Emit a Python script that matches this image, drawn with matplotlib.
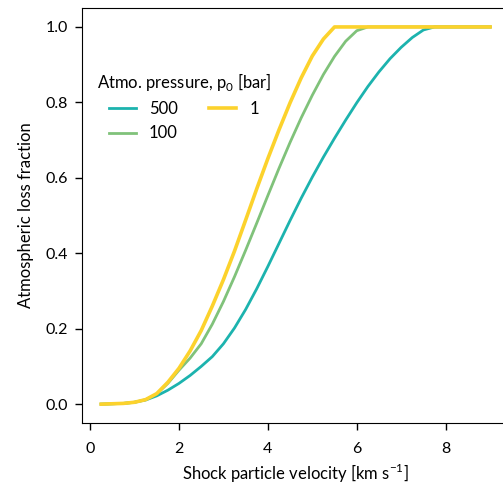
import matplotlib
matplotlib.use('Agg')
import matplotlib.pyplot as plt

plt.rcParams['font.family'] = ['Lato', 'DejaVu Sans']
plt.rcParams['mathtext.fontset'] = 'custom'
plt.rcParams['mathtext.rm'] = 'Lato'

# shock particle velocity [km/s]
velocity = [0.25, 0.5, 0.75, 1.0, 1.25, 1.5, 1.75, 2.0, 2.25, 2.5, 2.75, 3.0,
            3.25, 3.5, 3.75, 4.0, 4.25, 4.5, 4.75, 5.0, 5.25, 5.5, 5.75, 6.0,
            6.25, 6.5, 6.75, 7.0, 7.25, 7.5, 7.75, 8.0, 8.25, 8.5, 8.75, 9.0]

# atmospheric loss fraction for each surface pressure
loss_500 = [0.000, 0.001, 0.002, 0.005, 0.011, 0.022, 0.037, 0.055, 0.076, 0.100,
            0.126, 0.160, 0.202, 0.251, 0.306, 0.365, 0.426, 0.487, 0.546, 0.602,
            0.655, 0.705, 0.753, 0.799, 0.842, 0.881, 0.916, 0.946, 0.972, 0.992,
            1.0, 1.0, 1.0, 1.0, 1.0, 1.0]
loss_100 = [0.000, 0.001, 0.002, 0.005, 0.012, 0.027, 0.055, 0.090, 0.122, 0.160,
            0.212, 0.272, 0.338, 0.408, 0.480, 0.553, 0.625, 0.694, 0.759, 0.819,
            0.874, 0.922, 0.962, 0.990, 1.0, 1.0, 1.0, 1.0, 1.0, 1.0,
            1.0, 1.0, 1.0, 1.0, 1.0, 1.0]
loss_1 = [0.000, 0.001, 0.002, 0.005, 0.012, 0.028, 0.058, 0.095, 0.141, 0.195,
          0.260, 0.330, 0.406, 0.488, 0.571, 0.651, 0.727, 0.799, 0.865, 0.923,
          0.968, 1.0, 1.0, 1.0, 1.0, 1.0, 1.0, 1.0, 1.0, 1.0,
          1.0, 1.0, 1.0, 1.0, 1.0, 1.0]

fig = plt.figure(figsize=(5.03, 4.87), dpi=100)
ax = fig.add_axes([0.1625, 0.1314, 0.8505, 0.852])

ax.plot(velocity, loss_500, color='#1cb3ae', lw=2.0, label='500')
ax.plot(velocity, loss_100, color='#80c27a', lw=2.0, label='100')
ax.plot(velocity, loss_1, color='#fcd22c', lw=2.6, label='1')

ax.set_ylim(-0.05, 1.05)
ax.set_xticks([0, 2, 4, 6, 8])
ax.set_yticks([0.0, 0.2, 0.4, 0.6, 0.8, 1.0])
ax.tick_params(labelsize=11.5, length=5, width=1)
ax.tick_params(axis='x', pad=9)
ax.tick_params(axis='y', pad=5)
ax.set_xlabel('Shock particle velocity [km s$^{-1}$]', fontsize=12, labelpad=4)
ax.set_ylabel('Atmospheric loss fraction', fontsize=12, labelpad=8)

ax.legend(title='Atmo. pressure, p$_0$ [bar]', ncol=2, frameon=False,
          loc='upper left', bbox_to_anchor=(0.0, 0.885), fontsize=12,
          title_fontsize=12, handlelength=1.6, columnspacing=1.9)

plt.savefig('out.png', dpi=100)
